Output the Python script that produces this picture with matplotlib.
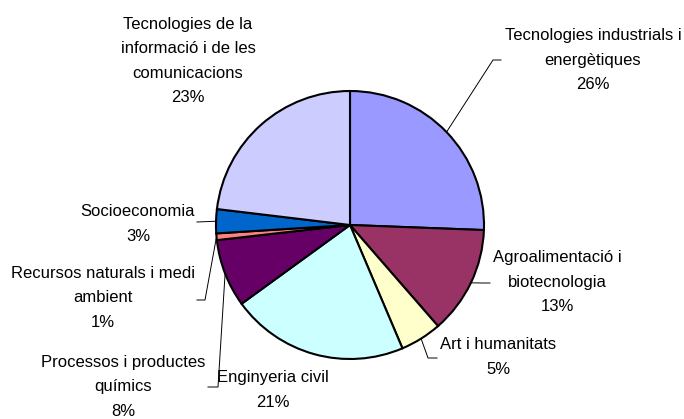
import numpy as np
import matplotlib.pyplot as plt

plt.rcParams['font.family'] = ['Liberation Sans', 'DejaVu Sans']

# dades del gràfic (percentatges llegits del gràfic, en sentit horari des de dalt)
categories = ['Tecnologies industrials i\nenergètiques',
              'Agroalimentació i\nbiotecnologia',
              'Art i humanitats',
              'Enginyeria civil',
              'Processos i productes\nquímics',
              'Recursos naturals i medi\nambient',
              'Socioeconomia',
              'Tecnologies de la\ninformació i de les\ncomunicacions']
percentages = [25.6, 13.0, 5.0, 21.4, 8.2, 0.8, 2.9, 23.1]
colors = ['#9999FF', '#993366', '#FFFFCC', '#CCFFFF',
          '#660066', '#FF8080', '#0066CC', '#CCCCFF']

W, H = 684, 419
cx, cy, r = 350, 225, 134   # centre i radi en píxels (y des de dalt)

# posició de les etiquetes i dels colzes de les línies guia (píxels)
label_pos = [(593, 60), (557, 282), (498, 357), (273, 390),
             (123, 387), (103, 298), (138, 224), (188, 61)]
elbows = [(493, 60), (482, 283), (428, 358), None,
          (218, 387), (205, 300), None, None]
line_ends = [(501, 60), (490, 283), (437, 358), None,
             (208, 387), (197, 300), (197, 222), None]

fig = plt.figure(figsize=(W / 100, H / 100), dpi=100)
ax = fig.add_axes([0, 0, 1, 1])

wedges, _ = ax.pie(percentages, colors=colors, startangle=90, counterclock=False,
                   center=(cx, H - cy), radius=r,
                   wedgeprops=dict(edgecolor='black', linewidth=1.5))

for i, w in enumerate(wedges):
    lx, ly = label_pos[i]
    ax.text(lx, H - ly, categories[i] + '\n' + str(round(percentages[i])) + '%',
            ha='center', va='center', fontsize=12, linespacing=1.8)
    if line_ends[i] is None:
        continue
    mid = np.deg2rad((w.theta1 + w.theta2) / 2)
    xs = [cx + r * np.cos(mid)]
    ys = [H - cy + r * np.sin(mid)]
    if elbows[i] is not None:
        xs.append(elbows[i][0])
        ys.append(H - elbows[i][1])
    xs.append(line_ends[i][0])
    ys.append(H - line_ends[i][1])
    ax.plot(xs, ys, color='black', linewidth=0.7, zorder=0.5)

ax.set_xlim(0, W)
ax.set_ylim(0, H)
ax.set_aspect('equal')
ax.axis('off')

plt.savefig('out.png', dpi=100)
